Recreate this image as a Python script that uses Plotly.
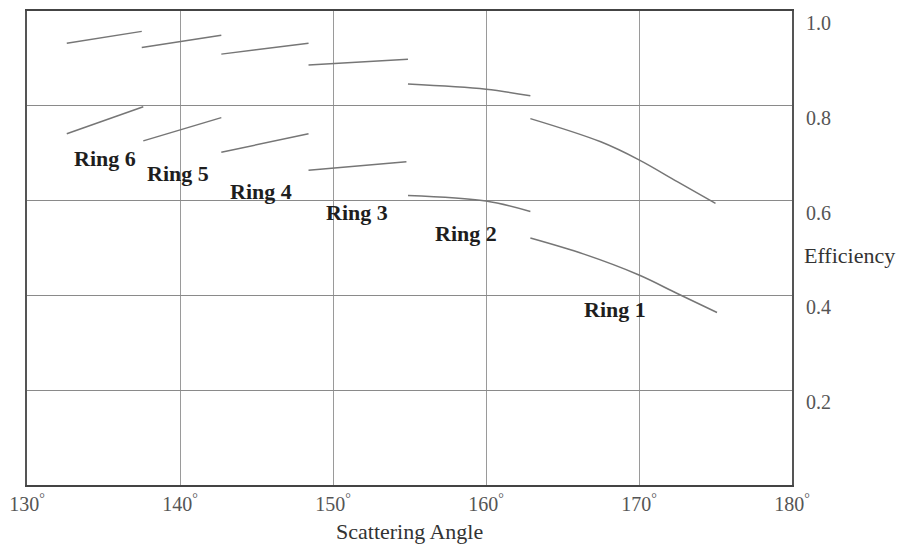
import plotly.graph_objects as go

# ---- data ----
ring_names = ["Ring 1", "Ring 2", "Ring 3", "Ring 4", "Ring 5", "Ring 6"]

# upper curves
r1_up_x = [162.9, 167.5, 170.0, 172.5, 175.0]
r1_up_y = [0.773, 0.724, 0.686, 0.640, 0.594]
r2_up_x = [154.9, 160.0, 162.9]
r2_up_y = [0.846, 0.835, 0.821]
r3_up_x = [148.4, 154.9]
r3_up_y = [0.886, 0.898]
r4_up_x = [142.7, 148.4]
r4_up_y = [0.909, 0.932]
r5_up_x = [137.5, 142.7]
r5_up_y = [0.923, 0.949]
r6_up_x = [132.6, 137.5]
r6_up_y = [0.932, 0.957]

# lower curves
r1_lo_x = [162.9, 166.4, 170.0, 172.5, 175.1]
r1_lo_y = [0.521, 0.487, 0.443, 0.404, 0.364]
r2_lo_x = [154.9, 160.0, 162.9]
r2_lo_y = [0.611, 0.599, 0.577]
r3_lo_x = [148.4, 154.8]
r3_lo_y = [0.664, 0.682]
r4_lo_x = [142.7, 148.4]
r4_lo_y = [0.702, 0.741]
r5_lo_x = [137.6, 142.7]
r5_lo_y = [0.726, 0.775]
r6_lo_x = [132.6, 137.6]
r6_lo_y = [0.741, 0.798]

# ring label positions
label_x = [168.4, 158.7, 151.6, 145.3, 139.9, 135.1]
label_y = [0.370, 0.531, 0.575, 0.619, 0.657, 0.689]

x_ticks = [130, 140, 150, 160, 170, 180]
x_ticktext = [f"{v}<sup>°</sup>" for v in x_ticks]
y_ticks = [0.2, 0.4, 0.6, 0.8, 1.0]
y_ticktext = ["0.2", "0.4", "0.6", "0.8", "1.0"]

segments = [
    (r1_up_x, r1_up_y), (r2_up_x, r2_up_y), (r3_up_x, r3_up_y),
    (r4_up_x, r4_up_y), (r5_up_x, r5_up_y), (r6_up_x, r6_up_y),
    (r1_lo_x, r1_lo_y), (r2_lo_x, r2_lo_y), (r3_lo_x, r3_lo_y),
    (r4_lo_x, r4_lo_y), (r5_lo_x, r5_lo_y), (r6_lo_x, r6_lo_y),
]

fig = go.Figure()
for sx, sy in segments:
    fig.add_trace(go.Scatter(
        x=sx, y=sy, mode="lines", line=dict(color="#767676", width=1.5, shape="spline"),
        showlegend=False, hoverinfo="skip"))

for name, lx, ly in zip(ring_names, label_x, label_y):
    fig.add_annotation(x=lx, y=ly, text=f"<b>{name}</b>", showarrow=False,
                       font=dict(family="Liberation Serif", size=22, color="#1e1e1e"))

fig.add_annotation(xref="paper", yref="paper", x=1, y=0.485, xanchor="left", yanchor="middle",
                   xshift=10, text="Efficiency", showarrow=False,
                   font=dict(family="Liberation Serif", size=22, color="#333333"))
fig.add_annotation(xref="paper", yref="paper", x=0.5, y=-0.099, xanchor="center", yanchor="middle",
                   text="Scattering Angle", showarrow=False,
                   font=dict(family="Liberation Serif", size=22, color="#333333"))

fig.update_xaxes(range=[130, 180], tickvals=x_ticks, ticktext=x_ticktext, ticks="",
                 showgrid=True, gridcolor="#9a9a9a", gridwidth=1, zeroline=False,
                 showline=True, linecolor="#444444", linewidth=2, mirror=True,
                 tickfont=dict(family="Liberation Serif", size=20, color="#555555"))
fig.update_yaxes(range=[0, 1.0], side="right", tickvals=y_ticks, ticktext=y_ticktext, ticks="",
                 showgrid=True, gridcolor="#8a8a8a", gridwidth=1, zeroline=False,
                 showline=True, linecolor="#555555", linewidth=2, mirror=True,
                 ticklabelshift=12, ticklabelstandoff=8,
                 tickfont=dict(family="Liberation Serif", size=20, color="#555555"))

fig.update_layout(width=903, height=544, margin=dict(l=27, r=111, t=9, b=59),
                  plot_bgcolor="white", paper_bgcolor="white")

fig.write_html("out.html")
